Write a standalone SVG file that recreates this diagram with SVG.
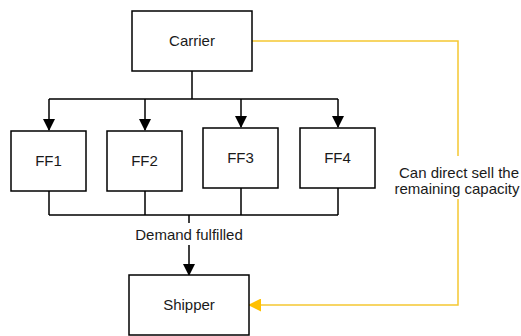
<svg xmlns="http://www.w3.org/2000/svg" width="521" height="336" viewBox="0 0 521 336">
<style>
.box{fill:#fff;stroke:#000;stroke-width:1.5}
.t{font-family:"Liberation Sans",Arial,sans-serif;font-size:15px;fill:#1a1a1a;text-anchor:middle}
.c{fill:none;stroke:#000;stroke-width:1.5}
.y{fill:none;stroke:#F5C832;stroke-width:1.5}
</style>
<defs>
<marker id="ab" markerWidth="12" markerHeight="12" refX="11" refY="6" orient="auto" markerUnits="userSpaceOnUse"><path d="M0,0 L12,6 L0,12 Z" fill="#000"/></marker>
<marker id="ay" markerWidth="13" markerHeight="13" refX="12" refY="6.5" orient="auto" markerUnits="userSpaceOnUse"><path d="M0,0 L13,6.5 L0,13 Z" fill="#FFC000"/></marker>
</defs>
<g id="connectors">
<path class="c" d="M192,71 V99 M49,99 H338"/>
<path class="c" d="M49,99 V130" marker-end="url(#ab)"/>
<path class="c" d="M145,99 V130" marker-end="url(#ab)"/>
<path class="c" d="M241,99 V127" marker-end="url(#ab)"/>
<path class="c" d="M338,99 V127" marker-end="url(#ab)"/>
<path class="c" d="M49,191 V215 M145,191 V215 M241,188 V215 M338,188 V215 M49,215 H338 M189,215 V223"/>
<path class="c" d="M189,245 V275" marker-end="url(#ab)"/>
<text class="t" x="189" y="240">Demand fulfilled</text>
<path class="y" d="M252,41 H458 V156"/>
<path class="y" d="M458,199 V305 H249" marker-end="url(#ay)"/>
<text class="t" x="459" y="178">Can direct sell the</text>
<text class="t" x="457" y="194">remaining capacity</text>
</g>
<g id="carrier"><rect class="box" x="132" y="11" width="120" height="60"/><text class="t" x="192" y="46">Carrier</text></g>
<g id="ff1"><rect class="box" x="11" y="131" width="75" height="60"/><text class="t" x="48.5" y="166">FF1</text></g>
<g id="ff2"><rect class="box" x="107" y="131" width="75" height="60"/><text class="t" x="144.5" y="166">FF2</text></g>
<g id="ff3"><rect class="box" x="203" y="128" width="75" height="60"/><text class="t" x="240.5" y="163">FF3</text></g>
<g id="ff4"><rect class="box" x="300" y="128" width="75" height="60"/><text class="t" x="337.5" y="163">FF4</text></g>
<g id="shipper"><rect class="box" x="129" y="275" width="120" height="60"/><text class="t" x="189" y="310">Shipper</text></g>
</svg>
